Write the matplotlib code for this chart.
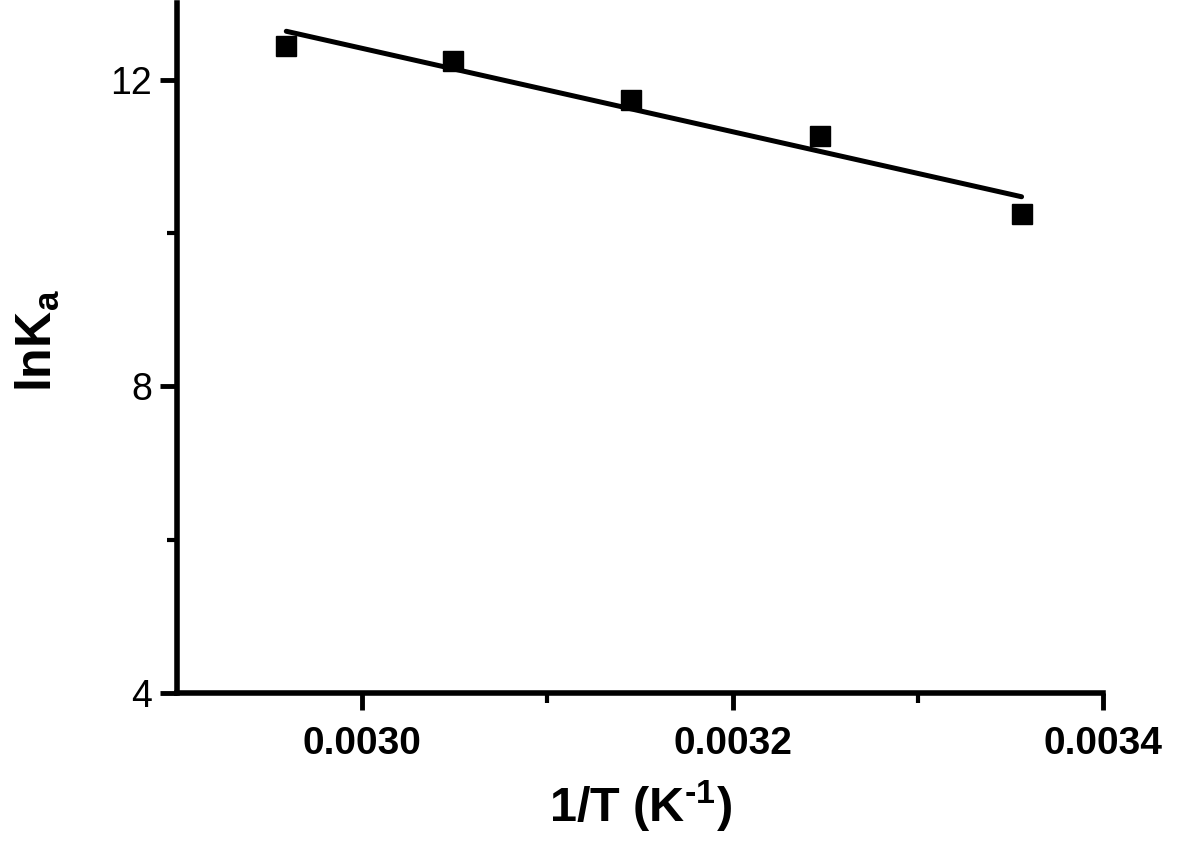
import numpy as np
import matplotlib
matplotlib.use("Agg")
import matplotlib.pyplot as plt
from matplotlib.ticker import FixedLocator

inv_T = [0.002959, 0.003049, 0.003145, 0.003247, 0.003356]
lnKa = [12.44, 12.24, 11.73, 11.27, 10.25]
x_ticks = [0.0030, 0.0032, 0.0034]
x_ticklabels = ["0.0030", "0.0032", "0.0034"]
y_ticks = [4, 8, 12]
y_ticklabels = ["4", "8", "12"]

plt.rcParams['font.family'] = ['Liberation Sans', 'DejaVu Sans']
plt.rcParams['mathtext.fontset'] = 'custom'
plt.rcParams['mathtext.rm'] = 'Liberation Sans:bold'
plt.rcParams['mathtext.bf'] = 'Liberation Sans:bold'
plt.rcParams['mathtext.default'] = 'bf'

fig = plt.figure(figsize=(11.81, 8.5), dpi=100)
ax = fig.add_axes([0.1499, 0.1847, 0.934 - 0.1499, 0.9965 - 0.1847])

x = np.array(inv_T)
y = np.array(lnKa)
slope, intercept = np.polyfit(x, y, 1)
ax.plot(x, slope * x + intercept, color='black', lw=3.6, solid_capstyle='round')
ax.plot(x, y, 's', color='black', markersize=14, linestyle='none')

ax.set_xlim(0.0029, 0.0034)
ax.set_ylim(4, 13)
ax.xaxis.set_major_locator(FixedLocator(x_ticks))
ax.xaxis.set_minor_locator(FixedLocator([0.0031, 0.0033]))
ax.yaxis.set_major_locator(FixedLocator(y_ticks))
ax.yaxis.set_minor_locator(FixedLocator([6, 10]))
ax.set_xticklabels(x_ticklabels, fontsize=28, fontweight='bold')
ax.set_yticklabels(y_ticklabels, fontsize=27)

for s in ['top', 'right']:
    ax.spines[s].set_visible(False)
for s in ['left', 'bottom']:
    ax.spines[s].set_linewidth(4)

ax.tick_params(which='major', direction='out', length=12, width=3.5, pad=12)
ax.tick_params(which='minor', direction='out', length=7, width=3)
ax.tick_params(axis='y', which='major', pad=6)

ax.set_xlabel("1/T (K$^{\\text{-1}}$)", fontsize=35, fontweight='bold', labelpad=12)
ax.set_ylabel("lnK$_{\\mathregular{a}}$", fontsize=36, fontweight='bold')
ax.yaxis.set_label_coords(-0.124, 0.51)

fig.savefig("out.png", dpi=100)
